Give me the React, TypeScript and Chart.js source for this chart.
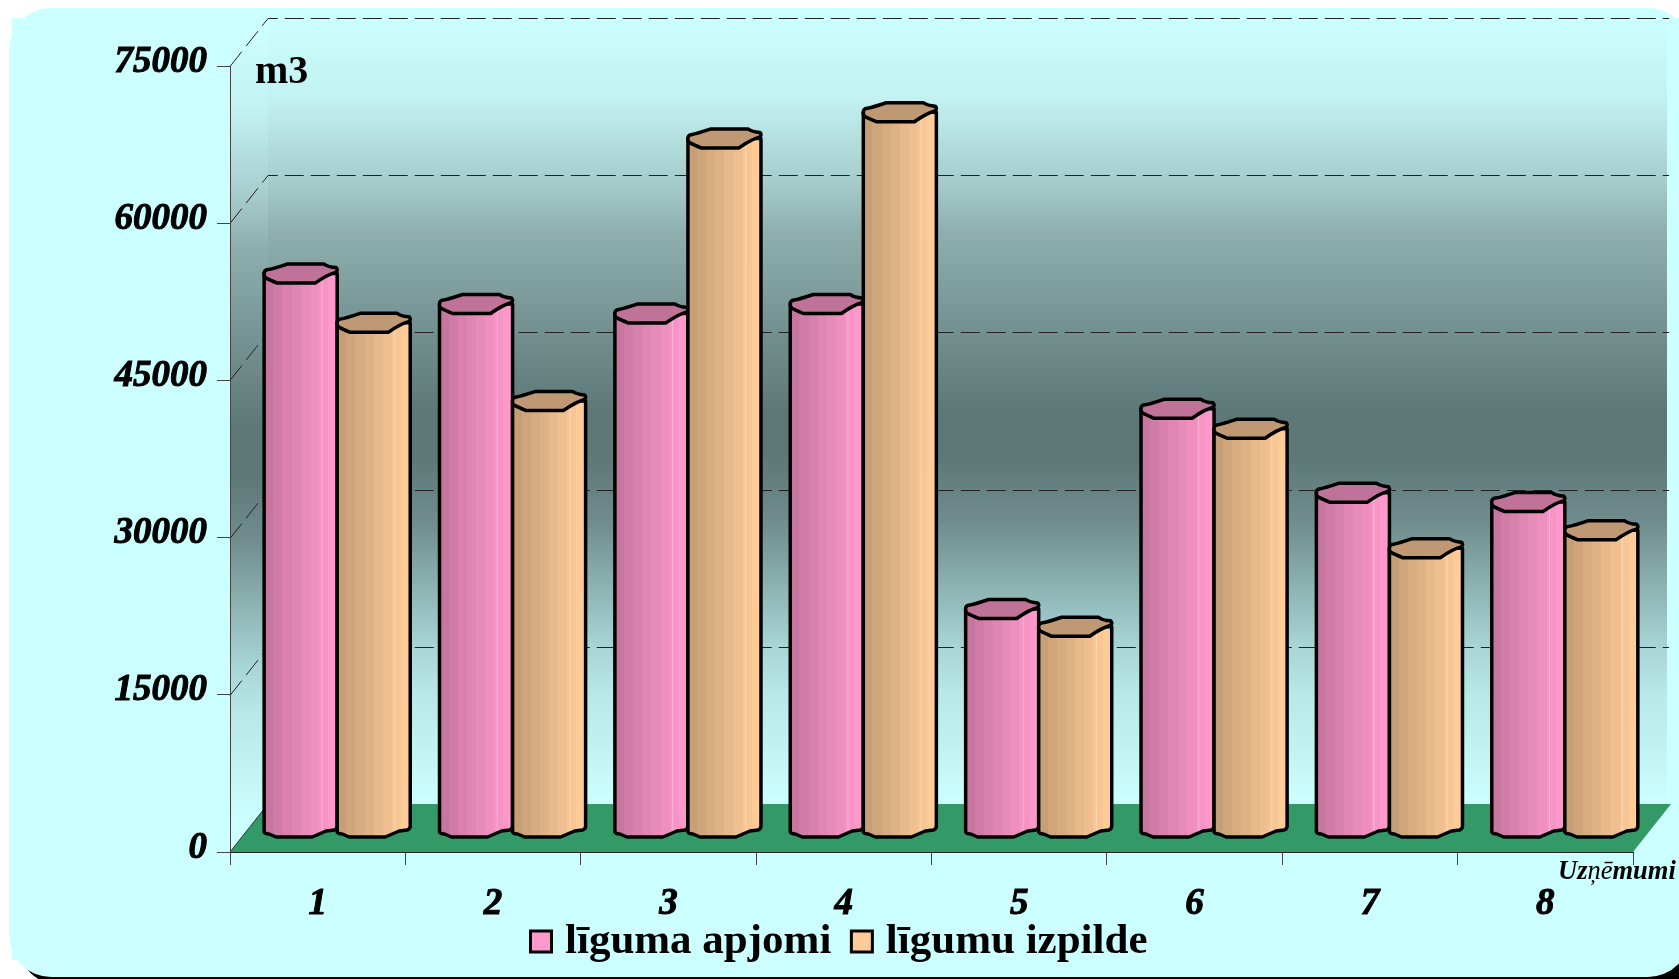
import React, { useEffect, useRef } from "react";
import { Chart, registerables } from "chart.js";

Chart.register(...registerables);

const categories = ["1", "2", "3", "4", "5", "6", "7", "8"];
const ligumaApjomi = [52900, 50000, 49100, 50000, 20900, 40000, 32000, 31100];
const ligumuIzpilde = [48200, 40750, 65800, 68300, 19200, 38100, 26700, 28400];
const seriesNames = ["līguma apjomi", "līgumu izpilde"];
const valueTicks = [0, 15000, 30000, 45000, 60000, 75000];

const PINK = [255, 153, 204];
const ORANGE = [255, 204, 153];
const DEPTH_X = 38;
const DEPTH_Y = 48;
const SERIF = '"Liberation Serif", serif';

const rgb = (c: number[], k = 1) => `rgb(${Math.round(c[0] * k)},${Math.round(c[1] * k)},${Math.round(c[2] * k)})`;

const wallStops: [number, string][] = [
  [0, "#CCFFFF"],
  [0.1, "#C2F2F2"],
  [0.2, "#A9CFCF"],
  [0.27, "#90B0B0"],
  [0.4, "#72908F"],
  [0.5, "#5E7878"],
  [0.56, "#5E7878"],
  [0.64, "#708C8C"],
  [0.8, "#A8D5D5"],
  [0.86, "#B8E8E8"],
  [1, "#CCFFFF"],
];

function wallGradient(ctx: CanvasRenderingContext2D, top: number, bottom: number) {
  const g = ctx.createLinearGradient(0, top, 0, bottom);
  for (const [p, c] of wallStops) g.addColorStop(p, c);
  return g;
}

function barGradient(ctx: CanvasRenderingContext2D, l: number, w: number, col: number[]) {
  const g = ctx.createLinearGradient(l, 0, l + w, 0);
  const n = 8;
  for (let i = 0; i < n; i++) {
    const k = 0.78 + (0.22 * i) / (n - 1);
    g.addColorStop(i / n, rgb(col, k));
    g.addColorStop((i + 1) / n, rgb(col, k));
  }
  return g;
}

function column(ctx: CanvasRenderingContext2D, l: number, w: number, topC: number, baseC: number, col: number[]) {
  const r = l + w;
  ctx.lineJoin = "round";
  ctx.lineWidth = 3.5;
  ctx.strokeStyle = "#000";
  // body
  const body = new Path2D();
  body.moveTo(l, topC);
  body.lineTo(l, baseC + 4);
  body.quadraticCurveTo(l + 1, baseC + 6, l + 5, baseC + 6);
  body.lineTo(l + 12, baseC + 9);
  body.lineTo(l + 48, baseC + 9);
  body.lineTo(l + 62, baseC + 3);
  body.lineTo(r - 3, baseC + 2);
  body.quadraticCurveTo(r, baseC + 1, r, baseC - 2);
  body.lineTo(r, topC);
  body.closePath();
  ctx.fillStyle = barGradient(ctx, l, w, col);
  ctx.fill(body);
  // thin light seam
  ctx.save();
  ctx.lineWidth = 1;
  ctx.strokeStyle = "rgba(255,255,255,0.3)";
  ctx.beginPath();
  ctx.moveTo(l + w * 0.79, topC);
  ctx.lineTo(l + w * 0.79, baseC + 5);
  ctx.stroke();
  ctx.restore();
  ctx.stroke(body);
  // top
  ctx.beginPath();
  ctx.moveTo(l, topC - 0.5);
  ctx.quadraticCurveTo(l, topC - 3.5, l + 4, topC - 4);
  ctx.quadraticCurveTo(l + 8, topC - 4.5, l + 23, topC - 9.5);
  ctx.lineTo(l + 60, topC - 9.5);
  ctx.quadraticCurveTo(l + 64, topC - 6.5, r - 1, topC - 6);
  ctx.quadraticCurveTo(r + 1, topC - 3.5, r - 1, topC - 1.5);
  ctx.quadraticCurveTo(r - 10, topC + 1, r - 22, topC + 9.5);
  ctx.lineTo(l + 13, topC + 9.5);
  ctx.quadraticCurveTo(l + 5, topC + 6, l + 2, topC + 4.5);
  ctx.quadraticCurveTo(l - 0.5, topC + 3, l, topC - 0.5);
  ctx.closePath();
  ctx.fillStyle = rgb(col, 0.75);
  ctx.fill();
  ctx.stroke();
}

const scene3d = {
  id: "scene3d",
  afterLayout(chart: any) {
    const lg = chart.legend;
    const h = lg.bottom - lg.top;
    lg.left = 0;
    lg.right = 1686;
    lg.top = 892;
    lg.bottom = 892 + h;
    const xs = chart.scales.x;
    xs.bottom = 979;
    xs.height = xs.bottom - xs.top;
  },
  beforeDraw(chart: any) {
    const { ctx, chartArea: a, scales } = chart;
    const { y } = scales;
    ctx.save();
    ctx.fillStyle = "#fff";
    ctx.fillRect(0, 0, chart.width, chart.height);
    // shadow + panel
    ctx.fillStyle = "#000";
    ctx.beginPath();
    ctx.roundRect(18, 40, 1682, 945, 42);
    ctx.fill();
    ctx.fillStyle = "#CCFFFF";
    ctx.beginPath();
    ctx.roundRect(9, 8, 1681, 969, 42);
    ctx.fill();
    ctx.fillRect(12, 18, 1667, 900);
    ctx.fillRect(12, 900, 400, 60);

    const x0 = a.left;
    const x1 = a.right;
    const yb = y.getPixelForValue(0);
    const yt = y.getPixelForValue(75000);
    // side wall
    ctx.fillStyle = wallGradient(ctx, 30, 825);
    ctx.beginPath();
    ctx.moveTo(x0, yt);
    ctx.lineTo(x0 + DEPTH_X, yt - DEPTH_Y);
    ctx.lineTo(x0 + DEPTH_X, yb - DEPTH_Y);
    ctx.lineTo(x0, yb);
    ctx.closePath();
    ctx.fill();
    // back wall
    ctx.fillStyle = wallGradient(ctx, yt - DEPTH_Y, yb - DEPTH_Y);
    ctx.fillRect(x0 + DEPTH_X, yt - DEPTH_Y, x1 - x0 - 4, yb - yt);
    // floor
    ctx.fillStyle = "#339966";
    ctx.beginPath();
    ctx.moveTo(x0, yb);
    ctx.lineTo(x0 + DEPTH_X, yb - DEPTH_Y);
    ctx.lineTo(x1 + DEPTH_X, yb - DEPTH_Y);
    ctx.lineTo(x1, yb);
    ctx.closePath();
    ctx.fill();
    // dashed gridlines
    ctx.strokeStyle = "#222";
    ctx.lineWidth = 1;
    ctx.setLineDash([19, 7]);
    for (const v of valueTicks) {
      if (v === 0) continue;
      const p = Math.round(y.getPixelForValue(v)) + 0.5;
      ctx.beginPath();
      ctx.moveTo(x0, p);
      ctx.lineTo(x0 + DEPTH_X, p - DEPTH_Y);
      ctx.lineTo(x1 + DEPTH_X - 2, p - DEPTH_Y);
      ctx.stroke();
    }
    ctx.setLineDash([]);
    ctx.beginPath();
    ctx.moveTo(x0, yb);
    ctx.lineTo(x0 + DEPTH_X, yb - DEPTH_Y);
    ctx.strokeStyle = "#333";
    ctx.stroke();
    ctx.restore();
  },
  afterDatasetsDraw(chart: any) {
    const { ctx, scales } = chart;
    const { y } = scales;
    ctx.save();
    const colors = [PINK, ORANGE];
    const n = categories.length;
    for (let i = 0; i < n; i++) {
      for (let d = 0; d < 2; d++) {
        const el = chart.getDatasetMeta(d).data[i];
        const l = el.x - el.width / 2 + DEPTH_X / 2 + 0.5;
        column(ctx, l, el.width, el.y - DEPTH_Y / 2, y.getPixelForValue(0) - DEPTH_Y / 2, colors[d]);
      }
    }
    // "m3" label
    ctx.fillStyle = "#000";
    ctx.textBaseline = "alphabetic";
    ctx.textAlign = "left";
    ctx.font = `bold 40px ${SERIF}`;
    ctx.fillText("m3", 255, 83);
    // "Uzņēmumi" axis name
    let cx = 1558;
    const parts: [string, string][] = [
      ["Uz", `italic bold 26.5px ${SERIF}`],
      ["ņē", `italic 26.5px ${SERIF}`],
      ["mumi", `italic bold 26.5px ${SERIF}`],
    ];
    for (const [t, f] of parts) {
      ctx.font = f;
      ctx.fillText(t, cx, 879);
      cx += ctx.measureText(t).width;
    }
    ctx.restore();
  },
};

export default function App() {
  const ref = useRef<HTMLCanvasElement | null>(null);
  useEffect(() => {
    const chart = new Chart(ref.current as HTMLCanvasElement, {
      type: "bar",
      data: {
        labels: categories,
        datasets: [
          { label: seriesNames[0], data: ligumaApjomi, backgroundColor: "transparent", borderWidth: 0 },
          { label: seriesNames[1], data: ligumuIzpilde, backgroundColor: "transparent", borderWidth: 0 },
        ],
      },
      plugins: [scene3d],
      options: {
        responsive: false,
        animation: false,
        events: [],
        layout: { padding: { left: 0, right: 46, top: 66, bottom: 0 } },
        datasets: { bar: { barPercentage: 1, categoryPercentage: 0.833 } },
        scales: {
          x: {
            afterFit(s: any) {
              s.height = 127 - (s.chart.legend ? s.chart.legend.height : 0);
            },
            border: { color: "#222", width: 1 },
            grid: { drawOnChartArea: false, drawTicks: true, tickLength: 13, color: "#444", offset: true },
            ticks: {
              color: "#000",
              padding: 17,
              maxRotation: 0,
              textStrokeColor: "#000",
              textStrokeWidth: 1,
              font: { family: SERIF, size: 37, weight: "bold", style: "italic" },
            },
          },
          y: {
            min: 0,
            max: 75000,
            afterFit(s: any) {
              s.width = 230;
            },
            border: { color: "#444", width: 1 },
            grid: { drawOnChartArea: false, drawTicks: true, tickLength: 13, color: "#444" },
            ticks: {
              stepSize: 15000,
              color: "#000",
              padding: 10,
              labelOffset: -4,
              textStrokeColor: "#000",
              textStrokeWidth: 1,
              callback: (v: any) => String(v),
              font: { family: SERIF, size: 37, weight: "bold", style: "italic" },
            },
          },
        },
        plugins: {
          tooltip: { enabled: false },
          title: { display: false },
          legend: {
            position: "bottom",
            labels: {
              color: "#000",
              usePointStyle: true,
              boxWidth: 5,
              boxHeight: 21,
              padding: 28,
              font: { family: SERIF, size: 43, weight: "bold" },
              generateLabels: () =>
                seriesNames.map((t, i) => ({
                  text: t,
                  fillStyle: rgb(i === 0 ? PINK : ORANGE),
                  strokeStyle: "#000",
                  lineWidth: 3,
                  pointStyle: "rect",
                  datasetIndex: i,
                })),
            },
          },
        },
      },
    } as any);
    return () => chart.destroy();
  }, []);
  return (
    <div style={{ position: "absolute", left: 0, top: 0, width: 1679, height: 979, overflow: "hidden" }}>
      <canvas ref={ref} width={1679} height={979} style={{ display: "block" }} />
    </div>
  );
}
